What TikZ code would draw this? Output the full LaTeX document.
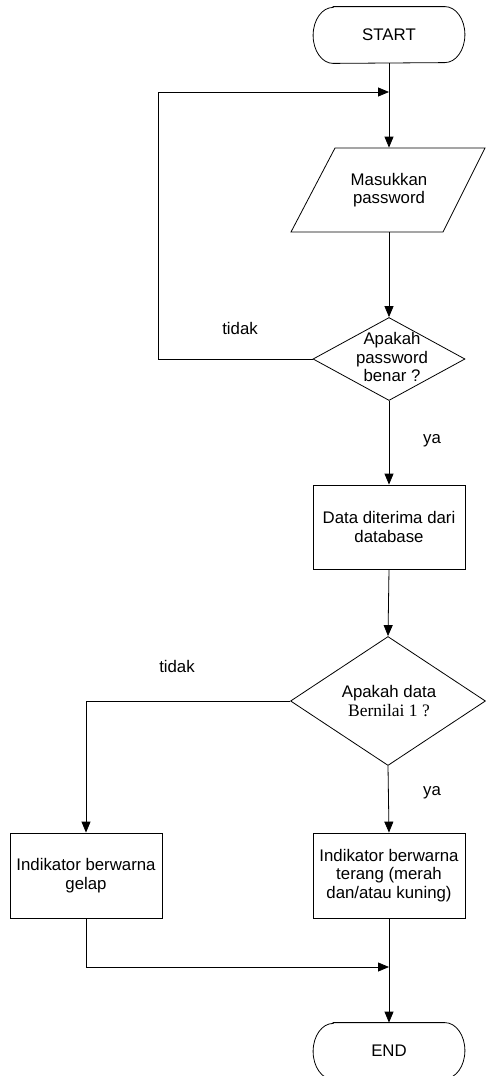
\documentclass[tikz,border=0pt]{standalone}
\usepackage{fontspec}
\setmainfont{Liberation Sans}
\newfontfamily\timesf{Liberation Serif}
\usetikzlibrary{shapes.geometric,arrows.meta,calc}
\begin{document}
\begin{tikzpicture}[x=1pt,y=-1pt,
  line width=0.8pt,
  font=\fontsize{16.8}{18.3}\selectfont,
  arr/.style={-{Triangle[length=11pt,width=9pt]}},
  box/.style={draw,rectangle,minimum width=152pt,minimum height=84pt,inner sep=0pt,align=center},
  dec/.style={draw,diamond,inner sep=0pt},
  lbl/.style={inner sep=0pt},
  ghost/.style={inner sep=0pt,minimum width=151pt,minimum height=56pt},
  txt/.style={inner sep=0pt,align=center}]
\useasboundingbox (0,0) rectangle (485,1076);

% START terminal
\node[ghost] (start) at (389,35) {START};
\draw ($(start.north west)+(20,0)$) -- ($(start.north east)+(-20,0)$)
  arc[start angle=90,end angle=-90,x radius=20pt,y radius=28pt]
  -- ($(start.south west)+(20,0)$)
  arc[start angle=-90,end angle=-270,x radius=20pt,y radius=28pt] -- cycle;

% input parallelogram
\node[txt,minimum height=84pt] (inp) at (389,190) {Masukkan\\password};
\draw (291,232) -- (335,148) -- (485,148) -- (443,232) -- cycle;

% decision 1
\node[dec,minimum width=152pt,minimum height=83pt] (d1) at (389,359) {};
\node[txt] at (392,357) {Apakah\\password\\benar ?};

% process
\node[box] (proc) at (389,527) {Data diterima dari\\database};

% decision 2
\node[dec,minimum width=195pt,minimum height=129pt] (d2) at (388,701) {};
\node[txt] at (389,701) {Apakah data\\{\timesf\fontsize{17.5}{18.3}\selectfont Bernilai 1 ?}};

% outputs
\node[box,minimum height=85pt] (left) at (86,875.5) {Indikator berwarna\\gelap};
\node[box,minimum height=85pt] (right) at (389,875.5) {Indikator berwarna\\terang (merah\\dan/atau kuning)};

% END terminal
\node[ghost] (end) at (389,1051) {END};
\draw ($(end.north west)+(20,0)$) -- ($(end.north east)+(-20,0)$)
  arc[start angle=90,end angle=-90,x radius=20pt,y radius=28pt]
  -- ($(end.south west)+(20,0)$)
  arc[start angle=-90,end angle=-270,x radius=20pt,y radius=28pt] -- cycle;

% labels
\node[lbl] (t1) at (240,328) {tidak};
\node[lbl] (y1) at (432,441) {ya};
\node[lbl] (t2) at (177,666) {tidak};
\node[lbl] (y2) at (432,793) {ya};

% helper coordinates
\coordinate (j1) at (389,92);
\coordinate (lp1) at (158,359);
\coordinate (lp2) at (158,92);
\coordinate (j2) at (389,967);

% connectors
\draw (start.south) -- (j1);
\draw[arr] (j1) -- (inp.north);
\draw[arr] (inp.south) -- (d1.north);
\draw[arr] (d1.west) -- (lp1) -- (lp2) -- (j1);
\draw[arr] (d1.south) -- (proc.north);
\draw[arr] (proc.south) -- (d2.north);
\draw[arr] (d2.west) -| (left.north);
\draw[arr] (d2.south) -- (right.north);
\draw[arr] (left.south) |- (j2);
\draw[arr] (right.south) -- (end.north);
\end{tikzpicture}
\end{document}
